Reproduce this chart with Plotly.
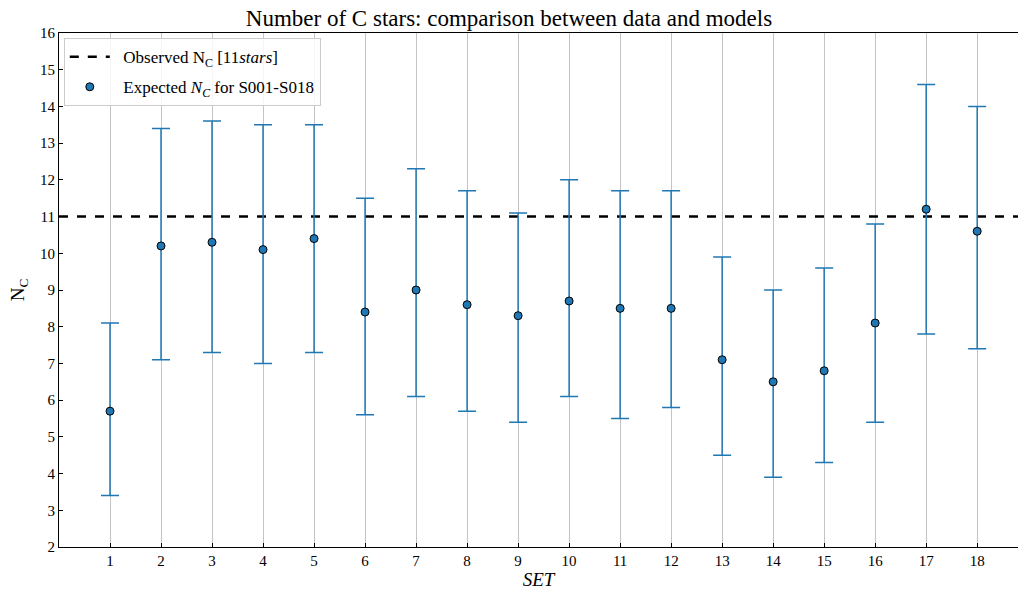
import plotly.graph_objects as go

sets = list(range(1, 19))
expected = [5.7, 10.2, 10.3, 10.1, 10.4, 8.4, 9.0, 8.6, 8.3, 8.7, 8.5, 8.5, 7.1, 6.5, 6.8, 8.1, 11.2, 10.6]
upper = [8.1, 13.4, 13.6, 13.5, 13.5, 11.5, 12.3, 11.7, 11.1, 12.0, 11.7, 11.7, 9.9, 9.0, 9.6, 10.8, 14.6, 14.0]
lower = [3.4, 7.1, 7.3, 7.0, 7.3, 5.6, 6.1, 5.7, 5.4, 6.1, 5.5, 5.8, 4.5, 3.9, 4.3, 5.4, 7.8, 7.4]
observed = 11

err_plus = [u - m for u, m in zip(upper, expected)]
err_minus = [m - l for m, l in zip(expected, lower)]

FONT = "Liberation Serif"
BLUE = "#1f77b4"

fig = go.Figure()
fig.add_trace(go.Scatter(
    x=[0, 19], y=[observed, observed], mode="lines",
    line=dict(color="black", width=2.5, dash="dash"),
    name="  Observed N<sub>C</sub> [11<i>stars</i>]", legendgroup="obs",
))
fig.add_trace(go.Scatter(
    x=sets, y=expected, mode="markers",
    marker=dict(color=BLUE, size=8, line=dict(color="black", width=1)),
    error_y=dict(type="data", symmetric=False, array=err_plus, arrayminus=err_minus,
                 color=BLUE, thickness=1.5, width=9),
    name="  Expected <i>N<sub>C</sub></i> for S001-S018", legendgroup="exp",
))

fig.update_layout(
    width=1018, height=590,
    margin=dict(l=59, r=0, t=33, b=43),
    plot_bgcolor="white", paper_bgcolor="white",
    font=dict(family=FONT, size=14, color="black"),
    title=dict(text="Number of C stars: comparison between data and models",
               x=0.5, xanchor="center", y=1 - 18/590, yanchor="middle",
               font=dict(family=FONT, size=23, color="black")),
    showlegend=True,
    legend=dict(x=0.005, y=0.99, xanchor="left", yanchor="top",
                bgcolor="rgba(255,255,255,0.85)", bordercolor="#cccccc", borderwidth=1,
                font=dict(family=FONT, size=17), tracegroupgap=5, itemwidth=40),
)
fig.update_xaxes(
    range=[0, 18.8], tickmode="array", tickvals=sets, ticktext=[str(s) for s in sets],
    showgrid=True, gridcolor="#c4c4c4", gridwidth=1, zeroline=False,
    showline=True, linecolor="black", linewidth=1.2, mirror=True,
    ticks="inside", ticklen=4, tickcolor="black",
    tickfont=dict(family=FONT, size=15),
    title=dict(text="<i>SET</i>", font=dict(family=FONT, size=19), standoff=4),
)
fig.update_yaxes(
    range=[2, 16], tickmode="array", tickvals=list(range(2, 17)),
    showgrid=False, zeroline=False,
    showline=True, linecolor="black", linewidth=1.2, mirror=True,
    ticks="inside", ticklen=4, tickcolor="black",
    tickfont=dict(family=FONT, size=15),
    title=dict(text="N<sub>C</sub>", font=dict(family=FONT, size=19), standoff=10),
)

fig.write_html("out.html")
